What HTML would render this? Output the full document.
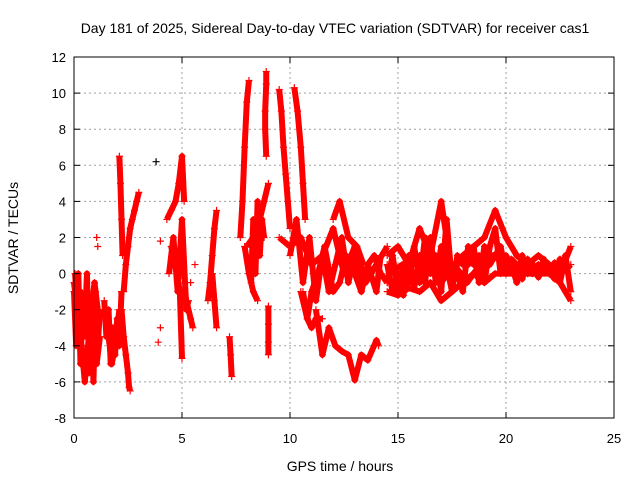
<!DOCTYPE html>
<html><head><meta charset="utf-8"><style>
body{margin:0;background:#fff;}
svg{display:block;font-family:"Liberation Sans",sans-serif;}
</style></head><body>
<svg id="chart" width="640" height="480" viewBox="0 0 640 480">
<text x="335" y="33" font-size="14" text-anchor="middle">Day 181 of 2025, Sidereal Day-to-day VTEC variation (SDTVAR) for receiver cas1</text>
<text x="340" y="471" font-size="14" text-anchor="middle">GPS time / hours</text>
<text x="18" y="238" font-size="14" text-anchor="middle" transform="rotate(-90 18 238)">SDTVAR / TECUs</text>
<g id="grid"></g><g id="marks"></g><g id="axes"></g>
</svg>
<script>
const xTicks=[0,5,10,15,20,25];
const yTicks=[-8,-6,-4,-2,0,2,4,6,8,10,12];
const s1t=[0,0.15,0.3,0.45,0.6,0.75,0.9,1.05,1.2], s1v=[-0.5,-2,-1,-3.5,-2,-4.5,-3,-5,-3.5];
const s2t=[0.05,0.2,0.35,0.5,0.65,0.8,0.95,1.1], s2v=[0,-3,-4,-6,-4,-2,-0.5,-2];
const s3t=[1.5,1.6,1.75,1.9,2.0,2.1], s3v=[-2,-3.5,-5,-4,-3,-2];
const s4t=[2.2,2.3,2.4,2.5,2.55,2.6], s4v=[-2,-3.5,-4.5,-5.5,-6.3,-6.5];
const s5t=[2.3,2.4,2.5,2.6,2.7,2.8,2.9,3.0], s5v=[-1,0.5,1.5,2.5,3,3.5,4,4.5];
const s6t=[2.1,2.15,2.2,2.25], s6v=[6.5,5,3,1];
const s7t=[4.3,4.5,4.7,4.85,5.0,5.1], s7v=[3,3.5,4,5,6.5,4];
const s8t=[4.5,4.7,4.9,5.0], s8v=[1.5,0.5,-1,-4.7];
const s9t=[5.0,5.2,5.4,5.5], s9v=[-1,-1.5,-2.5,-3];
const s10t=[6.2,6.3,6.4,6.5,6.6], s10v=[-1.5,-0.5,1,2.5,3.5];
const s11t=[6.4,6.5,6.6], s11v=[0,-1.5,-3];
const s12t=[7.2,7.25,7.3], s12v=[-3.5,-4.5,-5.7];
const s13t=[7.7,7.8,7.9,8.0,8.1], s13v=[2,4,7,9.5,10.7];
const s14t=[7.9,8.1,8.3,8.5], s14v=[1.5,0,-1,-1.5];
const s15t=[8.0,8.3,8.6,8.8,9.0], s15v=[1.5,2,3,4,5];
const s16t=[8.9,8.9,8.85,8.85,8.9], s16v=[11.2,10.5,9,8,6.5];
const s17t=[9.0,9.0,9.0,9.0], s17v=[-1.8,-2.8,-3.8,-4.5];
const s18t=[9.5,9.6,9.7,9.8,9.9,10.0], s18v=[10.2,9,7,5.5,4,2.5];
const s19t=[10.2,10.35,10.5,10.6,10.7], s19v=[10.3,9,7,5,3];
const s20t=[9.5,10,10.5,11,11.5,12,12.5,13,13.5,14,14.5], s20v=[2,1.5,2,0.5,1,2.5,0,1.5,-0.5,0.5,1.5];
const s21t=[10.5,10.8,11,11.3,11.6,12,12.3,12.6,13,13.3,13.6,14,14.2], s21v=[-1,-2.5,-1,0,1.5,-1,-0.5,1,0,-1,0.5,-1,1];
const s22t=[11.2,11.5,11.8,12.1,12.4,12.7,13,13.3,13.6,14,14.1], s22v=[-2,-4.5,-3,-4,-4.3,-4.5,-5.9,-4.5,-4.8,-3.7,-4];
const s23t=[10.6,10.8,11,11.2,11.5], s23v=[-1,-2.5,-3,-2.5,-2.5];
const s24t=[12.0,12.3,12.7,13.1,13.4], s24v=[3,4,2,1.5,0.5];
const s25t=[14.5,15,15.5,16,16.5,17,17.5,18,18.5,19,19.5,20,20.5,21,21.5,22,22.5,23], s25v=[1,1.5,0.5,2.5,1,4,0,1,1.5,2,3.5,2,1,0.5,1,0.5,0,1.5];
const s26t=[14.5,15,15.5,16,16.5,17,17.5,18,18.5,19,19.5,20,20.5,21,21.5,22,22.5,23], s26v=[-1,-1.2,-0.8,-1,-0.5,-1.5,-1,-0.5,0,-0.5,0,0,0,0,0,0,-0.5,-1.5];
const s27t=[14.6,15.2,15.8,16.4,17,17.6,18.2,18.8,19.4,20,20.6,21.2,21.8,22.4,22.9], s27v=[0,0.5,-0.5,0.5,-0.5,0.5,-0.5,0.5,1,0.5,0.5,0,0.5,0,0.5];
const s28t=[14.5,14.75,15,15.25,15.5,15.75,16,16.25,16.5,16.75,17,17.25,17.5,17.75,18,18.25,18.5,18.75,19,19.25,19.5,19.75,20,20.25,20.5,20.75,21,21.25,21.5,21.75,22,22.25,22.5,22.75,23];
const s28v=[-0.5,1,-1,0.5,-0.5,1.5,-0.5,2,0,1,-1,3,-0.5,0,-1,1.5,0.5,1,-0.5,1.5,2.5,0,1,0.5,-0.5,1,0,0.5,-0.2,0.8,0,0.6,-0.5,1,-1];
const s29v=[0.5,-1,0,-1.2,1,-0.8,1,-0.5,2,-0.5,1.5,0.5,-1,1,0.5,0.5,1.5,-0.5,1.5,0.5,1,1.5,0,0.8,0.5,-0.3,0.8,0,0.5,0.3,0.2,-0.3,0.8,0.2,0.5];
const s30t=[0,0.1,0.2,0.3,0.4,0.5,0.6,0.7,0.8,0.9,1.0,1.1,1.2], s30v=[-1,-4,0,-5,-1.5,-3,0,-5.5,-2,-6,-1,-4,-2];
const s31t=[1.4,1.5,1.6,1.7,1.8,1.9,2.0,2.1,2.2], s31v=[-1.5,-3.5,-2,-5,-3,-4.5,-2.5,-4,-1];
const s32t=[10,10.3,10.6,10.9,11.2,11.5,11.8,12.1,12.4,12.7,13,13.3,13.6,13.9,14.2,14.5], s32v=[1,3,-0.5,2,-1.5,1,-1,0.5,2,-0.5,1,-1,0.5,1,0,-0.5];
const s33t=[8.2,8.3,8.4,8.5,8.6,8.7,8.8], s33v=[-0.5,3,0,4,1,3,2];
const s34t=[4.4,4.6,4.8,5.0,5.2,5.3], s34v=[0,2,-1,3,-2,-1.5];
const isoT=[1.05,1.1,3.8,4.0,4.0,3.9,5.4,5.6], isoV=[2,1.5,6.2,1.8,-3,-3.8,-0.5,0.5];
const series=[[s1t,s1v],[s2t,s2v],[s3t,s3v],[s4t,s4v],[s5t,s5v],[s6t,s6v],[s7t,s7v],[s8t,s8v],[s9t,s9v],[s10t,s10v],[s11t,s11v],[s12t,s12v],[s13t,s13v],[s14t,s14v],[s15t,s15v],[s16t,s16v],[s17t,s17v],[s18t,s18v],[s19t,s19v],[s20t,s20v],[s21t,s21v],[s22t,s22v],[s23t,s23v],[s24t,s24v],[s25t,s25v],[s26t,s26v],[s27t,s27v],[s28t,s28v],[s28t,s29v],[s30t,s30v],[s31t,s31v],[s32t,s32v],[s33t,s33v],[s34t,s34v]];
const X0=74,X1=614,Y0=418,Y1=57;
const xs=t=>X0+(t-0)/(25-0)*(X1-X0);
const ys=v=>Y0-(v+8)/20*(Y0-Y1);
const NS="http://www.w3.org/2000/svg";
function mk(tag,at,parent){const e=document.createElementNS(NS,tag);for(const k in at)e.setAttribute(k,at[k]);parent.appendChild(e);return e;}
const grid=document.getElementById('grid'),axes=document.getElementById('axes'),marks=document.getElementById('marks');
xTicks.forEach(t=>{const x=xs(t);
 if(t>0&&t<25){const g=mk('line',{x1:x,y1:Y1,x2:x,y2:Y0,stroke:'#a0a0a0','stroke-dasharray':'2,3'},grid);
 
 }
 mk('line',{x1:x,y1:Y0,x2:x,y2:Y0-6,stroke:'#000'},axes);mk('line',{x1:x,y1:Y1,x2:x,y2:Y1+6,stroke:'#000'},axes);
 const tx=mk('text',{x:x,y:Y0+25,'font-size':13,'text-anchor':'middle'},axes);tx.textContent=t;
 
 });
yTicks.forEach(v=>{const y=ys(v);
 if(v>-8&&v<12){const g=mk('line',{x1:X0,y1:y,x2:X1,y2:y,stroke:'#a0a0a0','stroke-dasharray':'2,3'},grid);
 
 }
 mk('line',{x1:X0,y1:y,x2:X0+6,y2:y,stroke:'#000'},axes);mk('line',{x1:X1,y1:y,x2:X1-6,y2:y,stroke:'#000'},axes);
 const tx=mk('text',{x:X0-8,y:y+5,'font-size':13,'text-anchor':'end'},axes);tx.textContent=v;
 
 });
const fr=mk('rect',{x:X0,y:Y1,width:X1-X0,height:Y0-Y1,fill:'none',stroke:'#000'},axes);


function plus(x,y,c){const p=mk('path',{d:`M${x-3.5},${y}h7M${x},${y-3.5}v7`,stroke:c,'stroke-width':1.2,fill:'none'},marks);
 
 }
series.forEach(([T,V],i)=>{
 const pl=mk('polyline',{points:T.map((t,j)=>xs(t)+','+ys(V[j])).join(' '),stroke:'#ff0000','stroke-width':6,fill:'none','stroke-linejoin':'round'},marks);
 
 
 T.forEach((t,j)=>plus(xs(t),ys(V[j]),'#ff0000'));});
isoT.forEach((t,j)=>plus(xs(t),ys(isoV[j]),j==2?'#000':'#ff0000'));
</script>
</body></html>
